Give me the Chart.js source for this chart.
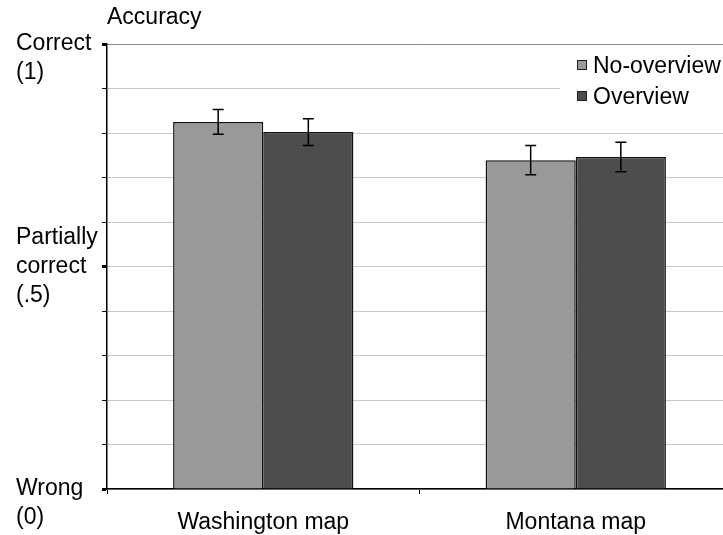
<!DOCTYPE html>
<html>
<head>
<meta charset="utf-8">
<title>Accuracy</title>
<script src="https://cdn.jsdelivr.net/npm/chart.js@4.4.1/dist/chart.umd.min.js"></script>
<style>
html, body { margin: 0; padding: 0; background: #fff; overflow: hidden; }
#wrap { width: 732px; height: 535px; }
</style>
</head>
<body>
<div id="wrap"><canvas id="myChart" width="732" height="535"></canvas></div>
<script>
const categories = ['Washington map', 'Montana map'];
const seriesNames = ['No-overview', 'Overview'];
const noOverview = [0.825, 0.739];
const overview = [0.802, 0.746];
const noOverviewErr = [0.028, 0.033];
const overviewErr = [0.030, 0.033];
const yTickValues = [0, 0.5, 1];
const yTickLabels = [['', 'Wrong', '(0)'], ['Partially', 'correct', '(.5)'], ['', 'Correct', '(1)']];

const FONT = "'Liberation Sans', Arial, sans-serif";
const FONT_SIZE = 23;

function isMajor(value) {
    return yTickValues.some(v => Math.abs(v - value) < 1e-6);
}

// draws the +/- error whiskers on top of each bar
const errorBars = {
    id: 'errorBars',
    afterDatasetsDraw(chart) {
        const ctx = chart.ctx;
        const y = chart.scales.y;
        chart.data.datasets.forEach((ds, i) => {
            const meta = chart.getDatasetMeta(i);
            meta.data.forEach((bar, j) => {
                const top = y.getPixelForValue(ds.data[j] + ds.errors[j]);
                const bottom = y.getPixelForValue(ds.data[j] - ds.errors[j]);
                ctx.save();
                ctx.strokeStyle = '#000';
                ctx.lineWidth = 1.5;
                ctx.beginPath();
                ctx.moveTo(bar.x, top);
                ctx.lineTo(bar.x, bottom);
                ctx.moveTo(bar.x - 5.5, top);
                ctx.lineTo(bar.x + 5.5, top);
                ctx.moveTo(bar.x - 5.5, bottom);
                ctx.lineTo(bar.x + 5.5, bottom);
                ctx.stroke();
                ctx.restore();
            });
        });
    }
};

// legend box sitting inside the plot, top right
const boxLegend = {
    id: 'boxLegend',
    beforeDatasetsDraw(chart) {
        const ctx = chart.ctx;
        const area = chart.chartArea;
        const left = area.right - 172;
        const top = area.top + 7;
        ctx.save();
        ctx.fillStyle = '#fff';
        ctx.fillRect(left, top, 172, 64);
        chart.data.datasets.forEach((ds, i) => {
            const cy = top + 14 + i * 31;
            ctx.fillStyle = ds.backgroundColor;
            ctx.fillRect(left + 17, cy - 5, 10, 10);
            ctx.strokeStyle = '#222';
            ctx.lineWidth = 1;
            ctx.strokeRect(left + 17.5, cy - 4.5, 9, 9);
            ctx.fillStyle = '#000';
            ctx.font = FONT_SIZE + 'px ' + FONT;
            ctx.textBaseline = 'middle';
            ctx.textAlign = 'left';
            ctx.fillText(ds.label, left + 33, cy + 2);
        });
        ctx.restore();
    }
};

function createChart() {
    const ctx = document.getElementById('myChart').getContext('2d');
    new Chart(ctx, {
        type: 'bar',
        data: {
            labels: categories,
            datasets: [
                {
                    label: seriesNames[0],
                    data: noOverview,
                    errors: noOverviewErr,
                    backgroundColor: '#999999',
                    borderColor: '#111',
                    borderWidth: 1.5
                },
                {
                    label: seriesNames[1],
                    data: overview,
                    errors: overviewErr,
                    backgroundColor: '#4d4d4d',
                    borderColor: '#111',
                    borderWidth: 1.5
                }
            ]
        },
        options: {
            responsive: false,
            animation: false,
            layout: {
                autoPadding: false,
                padding: { left: 16, top: 0, right: 0, bottom: 0 }
            },
            datasets: {
                bar: { categoryPercentage: 0.577, barPercentage: 1.0 }
            },
            scales: {
                x: {
                    afterFit(scale) { scale.height = 46; },
                    grid: {
                        offset: true,
                        drawOnChartArea: false,
                        tickLength: 5,
                        tickColor: '#000',
                        lineWidth: 1
                    },
                    border: { color: '#000', width: 1.5 },
                    ticks: {
                        color: '#000',
                        padding: 15,
                        font: { family: FONT, size: FONT_SIZE, lineHeight: 1.2 }
                    }
                },
                y: {
                    min: 0,
                    max: 1,
                    afterFit(scale) {
                        scale.width = 91;
                        scale.paddingTop = 0;
                        scale.paddingBottom = 0;
                    },
                    grid: {
                        color: c => (c.tick && Math.abs(c.tick.value - 1) < 1e-6) ? '#8a8a8a' : '#c8c8c8',
                        lineWidth: 1,
                        tickLength: 5,
                        tickColor: '#000',
                        tickWidth: c => (c.tick && isMajor(c.tick.value)) ? 3 : 1
                    },
                    border: { color: '#000', width: 1.5 },
                    ticks: {
                        stepSize: 0.1,
                        autoSkip: false,
                        crossAlign: 'far',
                        color: '#000',
                        font: { family: FONT, size: FONT_SIZE, lineHeight: 1.25 },
                        callback: value => {
                            const k = yTickValues.findIndex(v => Math.abs(v - value) < 1e-6);
                            return k >= 0 ? yTickLabels[k] : '';
                        }
                    }
                }
            },
            plugins: {
                legend: { display: false },
                tooltip: { enabled: false },
                title: {
                    display: true,
                    text: 'Accuracy',
                    align: 'start',
                    fullSize: false,
                    color: '#000',
                    font: { family: FONT, size: FONT_SIZE, weight: 'normal', lineHeight: 1.2 },
                    padding: { top: 4, bottom: 12.4 }
                }
            }
        },
        plugins: [boxLegend, errorBars]
    });
}

document.addEventListener('DOMContentLoaded', createChart);
</script>
</body>
</html>
